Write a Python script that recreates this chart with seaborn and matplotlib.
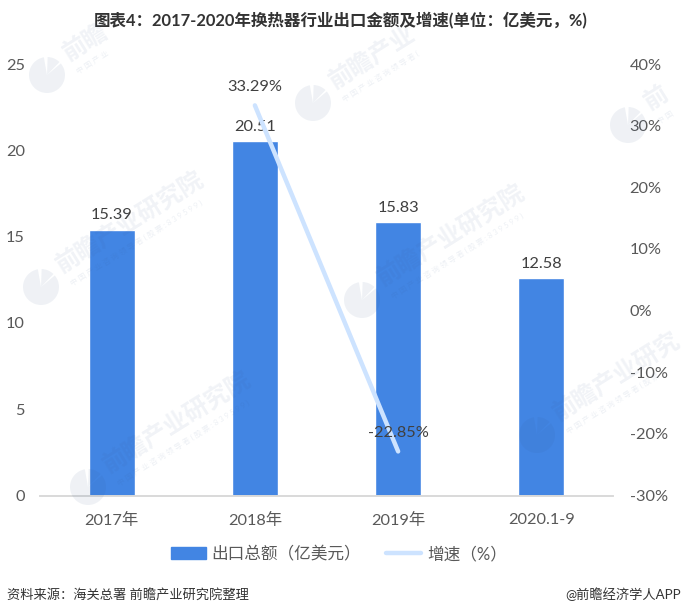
import matplotlib
matplotlib.use("Agg")
import matplotlib.pyplot as plt
import seaborn as sns
from matplotlib.lines import Line2D
from matplotlib.patches import Patch, Wedge
from matplotlib.transforms import IdentityTransform

categories = ["2017年", "2018年", "2019年", "2020.1-9"]
export_values = [15.39, 20.51, 15.83, 12.58]
growth_categories = ["2018年", "2019年"]
growth_values = [33.29, -22.85]
growth_labels = ["33.29%", "-22.85%"]
left_ticks = [0, 5, 10, 15, 20, 25]
right_ticks = [-30, -20, -10, 0, 10, 20, 30, 40]

# logo centre in pixels, and how much of the watermark shows there
watermarks = [
    (47, 75, "前瞻", "中 国 产 业"),
    (313, 103, "前瞻产业", "中 国 产 业 咨 询 领 导 者 ("),
    (41, 287, "前瞻产业研究院", "中 国 产 业 咨 询 领 导 者 ( 股 票 : 8 3 9 5 9 9 )"),
    (88, 487, "前瞻产业研究院", "中 国 产 业 咨 询 领 导 者 ( 股 票 : 8 3 9 5 9 9 )"),
    (362, 300, "前瞻产业研究院", "中 国 产 业 咨 询 领 导 者 ( 股 票 : 8 3 9 5 9 9 )"),
    (537, 435, "前瞻产业研究", "中 国 产 业 咨 询 领 导 者 ( 股 票"),
    (628, 125, "前", "中 国"),
]

sns.set_theme(style="white")
plt.rcParams["font.family"] = ["Lato", "Noto Sans CJK SC", "DejaVu Sans"]

W, H = 683, 616
BAR = "#4285e3"
LINE = "#cde3ff"
TICK = "#595959"
LABEL = "#404040"
MARK = "#33558c"


def draw_watermark(fig, cx, cy, main, sub):
    for t1, t2 in [(100, 400), (46, 88)]:
        fig.add_artist(Wedge((cx, H - cy), 18, t1, t2, transform=IdentityTransform(),
                             color=MARK, alpha=0.08, lw=0, zorder=5))
    # text runs up and to the right of the logo, about 32 degrees
    n = len(main)
    tx = cx + 28 + (n - 1) / 2 * 20.3
    ty = cy - 27 - (n - 1) / 2 * 12.7
    fig.text(tx / W, 1 - ty / H, main, fontsize=17.5, fontweight="bold", color=MARK, alpha=0.07,
             rotation=32, rotation_mode="anchor", ha="center", va="center", zorder=5)
    fig.text((cx + 30) / W, 1 - (cy - 3) / H, sub, fontsize=5.5, color=MARK, alpha=0.09,
             rotation=32, rotation_mode="anchor", ha="left", va="center", zorder=5)


fig = plt.figure(figsize=(W / 100, H / 100), dpi=100)
ax = fig.add_axes([40 / W, 1 - 495.5 / H, 573 / W, 431.5 / H])

sns.barplot(x=categories, y=export_values, color=BAR, width=0.32, saturation=1, ax=ax, zorder=2)
ax.set_ylim(0, 25)
ax.set_xlim(-0.5, 3.5)
ax.set_yticks(left_ticks)
ax.tick_params(axis="y", length=0, pad=11, labelsize=11.8, labelcolor=TICK)
ax.tick_params(axis="x", length=0, pad=12.5, labelsize=11.8, labelcolor=TICK)
ax.set_xlabel("")
ax.set_ylabel("")
for i, v in enumerate(export_values):
    ax.annotate(f"{v:.2f}", (i, v), xytext=(0, 5.5), textcoords="offset points",
                ha="center", va="bottom", fontsize=11.8, color=LABEL)

ax2 = ax.twinx()
sns.lineplot(x=growth_categories, y=growth_values, color=LINE, linewidth=3.2, solid_capstyle="round", ax=ax2, zorder=3)
ax2.set_ylim(-30, 40)
ax2.set_yticks(right_ticks)
ax2.set_yticklabels([f"{t}%" for t in right_ticks])
ax2.tick_params(axis="y", length=0, pad=12, labelsize=11.8, labelcolor=TICK)
ax2.set_xlabel("")
ax2.set_ylabel("")
for a in (ax, ax2):
    sns.despine(ax=a, left=True, right=True, top=True)
    a.spines["bottom"].set_color("#d9d9d9")
    a.spines["bottom"].set_linewidth(1.2)

for c, v, lab in zip(growth_categories, growth_values, growth_labels):
    ax2.annotate(lab, (c, v), xytext=(0, 8.5), textcoords="offset points",
                 ha="center", va="bottom", fontsize=11.8, color=LABEL)

for cx, cy, main, sub in watermarks:
    draw_watermark(fig, cx, cy, main, sub)

fig.text(341 / W, 1 - 21 / H, "图表4：2017-2020年换热器行业出口金额及增速(单位：亿美元，%)",
         fontsize=11.9, fontweight="bold", color="#333333", ha="center", va="center")

handles = [Patch(color=BAR, label="出口总额（亿美元）"), Line2D([0], [0], color=LINE, lw=3.2, label="增速（%）")]
fig.legend(handles=handles, loc="center", bbox_to_anchor=(339 / W, 1 - 554 / H), ncol=2, frameon=False,
           fontsize=12, labelcolor=TICK, handlelength=2.1, handleheight=0.75, handletextpad=0.35, columnspacing=1.5)

fig.text(7 / W, 1 - 594 / H, "资料来源：海关总署 前瞻产业研究院整理", fontsize=9.5, color="#333333", ha="left", va="center")
fig.text(681 / W, 1 - 594 / H, "@前瞻经济学人APP", fontsize=9.5, color="#333333", ha="right", va="center")

fig.savefig("out.png", dpi=100)
